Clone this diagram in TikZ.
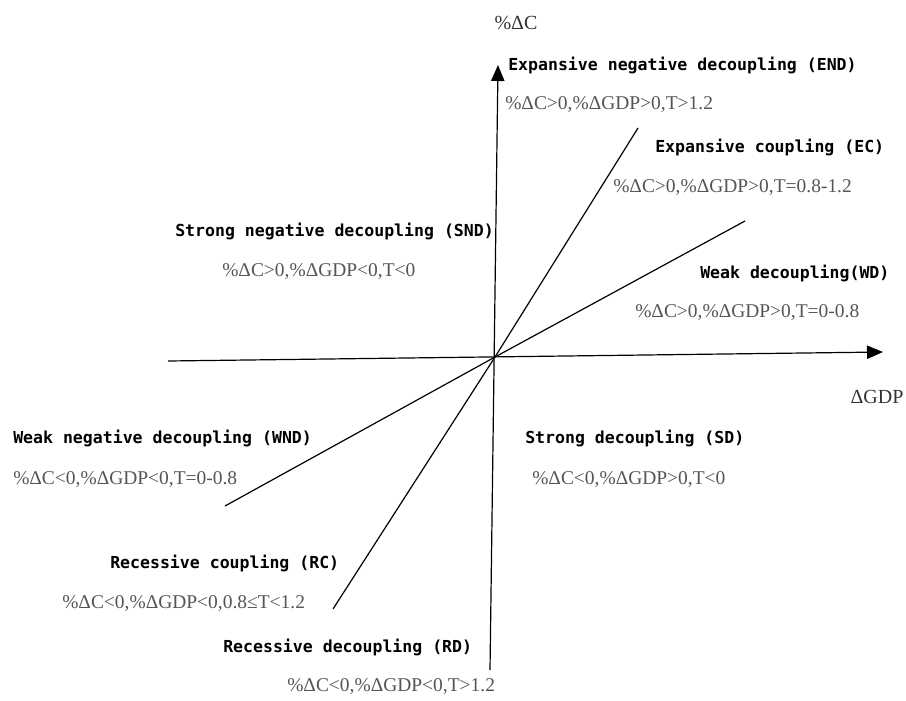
\documentclass[tikz,border=0pt]{standalone}
\usepackage{fontspec}
\setmainfont{Liberation Serif}
\newfontfamily\typefont{DejaVu Sans Mono}
\usetikzlibrary{arrows.meta, positioning}
\usepackage{xcolor}
\definecolor{condgray}{HTML}{555555}
\definecolor{axisgray}{HTML}{333333}

\begin{document}
\begin{tikzpicture}[
    x=0.75pt, y=-0.75pt,
    state/.style={inner sep=0pt, anchor=west, text=black,
                  font=\typefont\bfseries\fontsize{12.4}{14}\selectfont},
    cond/.style={inner sep=0pt, anchor=west, text=condgray,
                 font=\fontsize{14.6}{17}\selectfont},
    axislbl/.style={inner sep=0pt, text=axisgray,
                    font=\fontsize{15}{18}\selectfont},
    axis/.style={line width=0.9pt, -{Triangle[length=12pt, width=10pt]}},
    ray/.style={line width=0.9pt}
  ]
    \useasboundingbox (0,0) rectangle (906,700);
    % axes and the two elasticity lines
    \coordinate (o) at (495,357);
    \coordinate (xl) at (168,361);
    \coordinate (xr) at (883,352);
    \coordinate (yb) at (490,670);
    \coordinate (yt) at (498,65);
    \coordinate (ecend) at (638,128);
    \coordinate (rcend) at (333,609);
    \coordinate (wdend) at (745,221);
    \coordinate (wndend) at (225,506);
    \draw[axis] (xl) -- (xr);
    \draw[axis] (yb) -- (yt);
    \draw[ray] (rcend) -- (o) -- (ecend);
    \draw[ray] (wndend) -- (o) -- (wdend);
    \node[axislbl] (dc) at (516,23) {\%ΔC};
    \node[axislbl] (dgdp) at (877,397) {ΔGDP};
    % regions
    \node[state] (end) at (508,65) {Expansive negative decoupling (END)};
    \node[cond] (endc) at (505,105) {\%ΔC>0,\%ΔGDP>0,T>1.2};
    \node[state] (ec) at (655,147) {Expansive coupling (EC)};
    \node[cond] (ecc) at (613,188) {\%ΔC>0,\%ΔGDP>0,T=0.8-1.2};
    \node[state] (snd) at (175,231) {Strong negative decoupling (SND)};
    \node[cond] (sndc) at (222,272) {\%ΔC>0,\%ΔGDP<0,T<0};
    \node[state] (wd) at (700,273) {Weak decoupling(WD)};
    \node[cond] (wdc) at (635,313) {\%ΔC>0,\%ΔGDP>0,T=0-0.8};
    \node[state] (wnd) at (13,438) {Weak negative decoupling (WND)};
    \node[cond] (wndc) at (13,480) {\%ΔC<0,\%ΔGDP<0,T=0-0.8};
    \node[state] (sd) at (525,438) {Strong decoupling (SD)};
    \node[cond] (sdc) at (532,480) {\%ΔC<0,\%ΔGDP>0,T<0};
    \node[state] (rc) at (110,563) {Recessive coupling (RC)};
    \node[cond] (rcc) at (62,604) {\%ΔC<0,\%ΔGDP<0,0.8≤T<1.2};
    \node[state] (rd) at (223,647) {Recessive decoupling (RD)};
    \node[cond] (rdc) at (287,687) {\%ΔC<0,\%ΔGDP<0,T>1.2};
\end{tikzpicture}
\end{document}
